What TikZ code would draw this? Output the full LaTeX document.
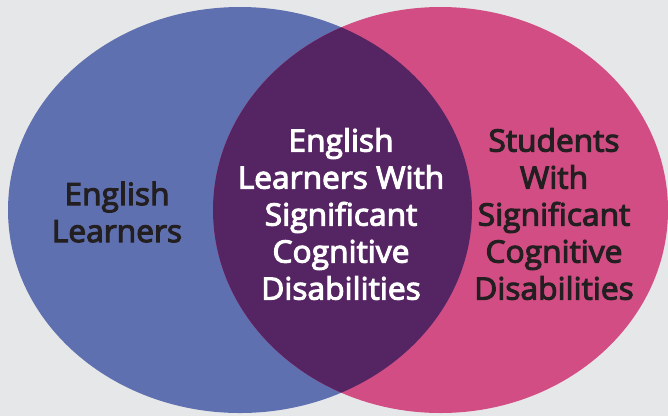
\documentclass[tikz,border=0pt]{standalone}
\usepackage{fontspec}
\newfontfamily\semi{Open Sans}[FakeBold=3.5,FakeStretch=1.03]
\definecolor{bg}{HTML}{E6E7E8}
\definecolor{elblue}{HTML}{5F70B0}
\definecolor{swpink}{HTML}{D24D84}
\definecolor{ovpurple}{HTML}{552462}
\definecolor{darktext}{HTML}{231F20}
\begin{document}
\begin{tikzpicture}[x=1pt,y=-1pt,
  lbl/.style={align=center,font=\semi\fontsize{30.8}{37}\selectfont,inner sep=0pt}]
\fill[bg] (0,0) rectangle (668,416);
\useasboundingbox (0,0) rectangle (668,416);
\fill[elblue] (240,210) ellipse [x radius=232, y radius=203];
\fill[swpink] (440.5,210) ellipse [x radius=227.5, y radius=203];
\begin{scope}
  \clip (240,210) ellipse [x radius=232, y radius=203];
  \fill[ovpurple] (440.5,210) ellipse [x radius=227.5, y radius=203];
\end{scope}
\node[lbl,text=darktext] (el) at (117,212) {English\\Learners};
\node[lbl,text=white] (both) at (341,214) {English\\Learners With\\Significant\\Cognitive\\Disabilities};
\node[lbl,text=darktext] (swscd) at (554,214) {Students\\With\\Significant\\Cognitive\\Disabilities};
\end{tikzpicture}
\end{document}
